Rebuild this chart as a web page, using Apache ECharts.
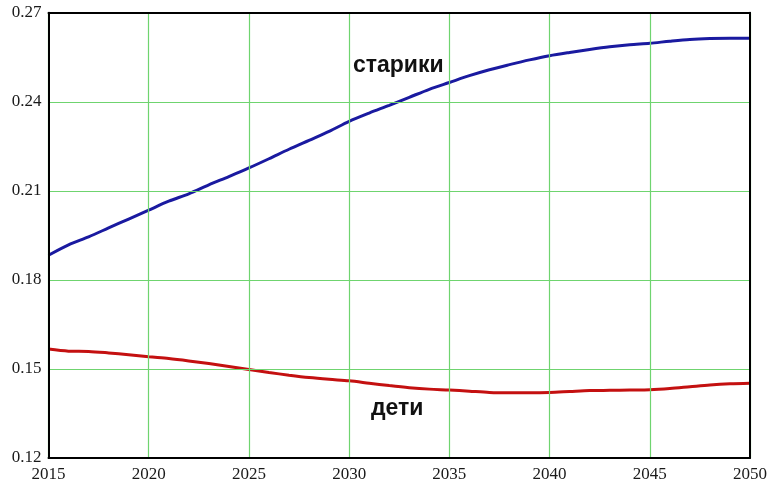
<!DOCTYPE html>
<html>
<head>
<meta charset="utf-8">
<script src="https://cdn.jsdelivr.net/npm/echarts@6/dist/echarts.min.js"></script>
<style>html,body{margin:0;padding:0;background:#fff}#c{width:771px;height:483px}</style>
</head>
<body>
<div id="c"></div>
<script>
var years = [2015,2016,2017,2018,2019,2020,2021,2022,2023,2024,2025,2026,2027,2028,2029,2030,2031,2032,2033,2034,2035,2036,2037,2038,2039,2040,2041,2042,2043,2044,2045,2046,2047,2048,2049,2050];
var elderly = [0.1883,0.1918,0.1945,0.1975,0.2005,0.2035,0.2065,0.2090,0.2120,0.2148,0.2177,0.2208,0.2240,0.2270,0.2300,0.2334,0.2362,0.2388,0.2415,0.2442,0.2465,0.2488,0.2508,0.2525,0.2541,0.2555,0.2566,0.2576,0.2585,0.2592,0.2597,0.2604,0.2610,0.2613,0.2614,0.2614];
var children = [0.1567,0.1560,0.1559,0.1554,0.1548,0.1541,0.1535,0.1527,0.1518,0.1508,0.1498,0.1488,0.1479,0.1471,0.1465,0.1460,0.1452,0.1444,0.1437,0.1432,0.1429,0.1425,0.1421,0.1420,0.1420,0.1421,0.1424,0.1427,0.1428,0.1429,0.1430,0.1434,0.1440,0.1446,0.1450,0.1452];
var seriesNames = ['старики','дети'];
var labelAt = [[2032.45,0.2521],[2032.4,0.1365]];

function pairs(v){ return years.map(function(y,i){ return [y, v[i]]; }); }

var chart = echarts.init(document.getElementById('c'));
var labelStyle = {show:true, formatter:'{b}', fontFamily:'Liberation Sans', fontWeight:'bold', fontSize:23, color:'#111', position:'inside'};
var frame = {axisLine:{show:true, onZero:false, lineStyle:{color:'#000', width:2}}, axisTick:{show:false}, axisLabel:{show:false}, splitLine:{show:false}};
chart.setOption({
  animation:false,
  grid:{left:48.5, right:21, top:12.7, bottom:23.5, show:false},
  xAxis:[{type:'value', min:2015, max:2050, interval:5, z:5,
    axisLine:{show:true, onZero:false, lineStyle:{color:'#000', width:2}},
    axisTick:{show:false},
    splitLine:{show:true, lineStyle:{color:'#6fd46f', width:1.2}},
    axisLabel:{fontFamily:'Liberation Serif', fontSize:17, color:'#1a1a1a', margin:8, formatter:function(v){return String(v);}}
  },
  Object.assign({type:'value', min:2015, max:2050, interval:5, position:'top', z:5}, frame)],
  yAxis:[{type:'value', min:0.12, max:0.27, interval:0.03, z:5,
    axisLine:{show:true, onZero:false, lineStyle:{color:'#000', width:2}},
    axisTick:{show:false},
    splitLine:{show:true, lineStyle:{color:'#6fd46f', width:1.2}},
    axisLabel:{fontFamily:'Liberation Serif', fontSize:17, color:'#1a1a1a', margin:7, padding:[7,0,0,0], formatter:function(v){return v.toFixed(2);}}
  },
  Object.assign({type:'value', min:0.12, max:0.27, interval:0.03, position:'right', z:5}, frame)],
  series:[
    {name:seriesNames[0], type:'line', data:pairs(elderly), showSymbol:false, smooth:0.3,
      lineStyle:{color:'#1a1aa0', width:3}, z:3,
      markPoint:{symbol:'circle', symbolSize:1, itemStyle:{color:'rgba(0,0,0,0)'}, label:labelStyle,
        data:[{name:seriesNames[0], coord:labelAt[0]}]}},
    {name:seriesNames[1], type:'line', data:pairs(children), showSymbol:false, smooth:0.3,
      lineStyle:{color:'#c41010', width:3}, z:3,
      markPoint:{symbol:'circle', symbolSize:1, itemStyle:{color:'rgba(0,0,0,0)'}, label:labelStyle,
        data:[{name:seriesNames[1], coord:labelAt[1]}]}}
  ]
});
</script>
</body>
</html>
